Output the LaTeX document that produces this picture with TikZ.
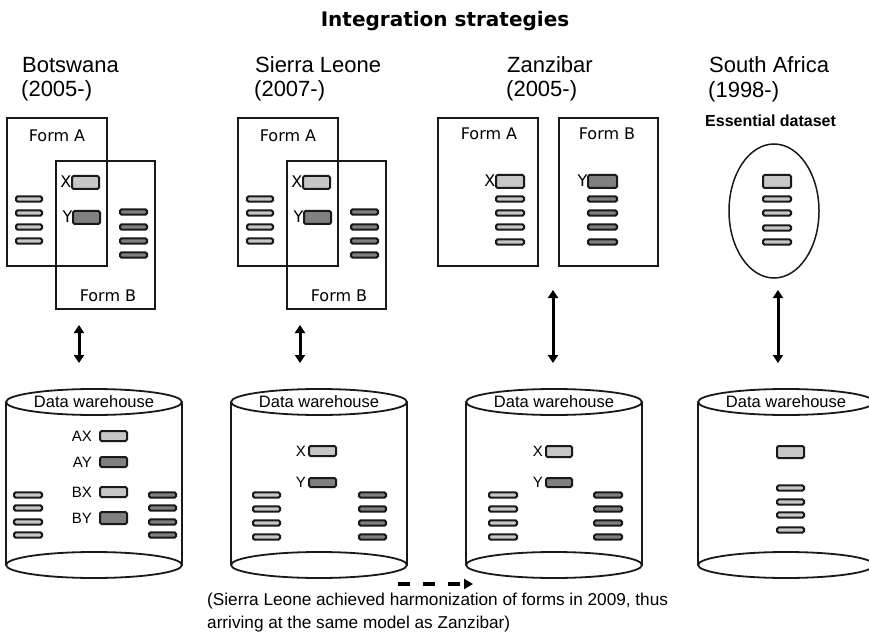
\documentclass[tikz,border=0pt]{standalone}
\usepackage{fontspec}
\setmainfont{Liberation Sans}
\newfontfamily\dejavu{DejaVu Sans}
\usetikzlibrary{arrows.meta}

\colorlet{fieldlight}{black!22}
\colorlet{fielddark}{black!50}
\tikzset{
  formbox/.style={draw=black!90, line width=2pt},
  lightfield/.style={draw=black!90, line width=2pt, fill=fieldlight, rounded corners=1.5pt},
  darkfield/.style={lightfield, fill=fielddark},
  can/.style={draw=black!90, line width=1.8pt},
  colname/.style={font=\fontsize{22}{26}\selectfont, anchor=base west, inner sep=0pt},
  formlabel/.style={font=\dejavu\fontsize{16}{18}\selectfont, inner sep=0pt},
  fieldlabel/.style={font=\dejavu\fontsize{16}{18}\selectfont, anchor=east, inner sep=0.5pt},
  dwfield/.style={font=\fontsize{15}{16}\selectfont, anchor=east, inner sep=1pt},
  dwlabel/.style={font=\fontsize{16.5}{18}\selectfont, inner sep=0pt},
  linkarrow/.style={line width=3pt, {Triangle[width=10pt,length=8pt]}-{Triangle[width=10pt,length=8pt]}},
  footnote/.style={font=\fontsize{17.2}{20}\selectfont, anchor=base west, inner sep=0pt}
}

% a stack of small field bars: style, left x, right x, list of y
\newcommand{\fieldbars}[4]{%
  \foreach \yy in {#4} \draw[#1] (#2,{\yy-2.6}) rectangle (#3,{\yy+2.6});}
% data warehouse cylinder: name, centre x
\newcommand{\warehouse}[2]{%
  \draw[can] ({#2-88},402) -- ({#2-88},565) ({#2+88},402) -- ({#2+88},565);
  \draw[can] (#2,402) ellipse [x radius=88, y radius=13];
  \draw[can] (#2,565) ellipse [x radius=88, y radius=13];
  \node[dwlabel] (#1) at (#2,402) {Data warehouse};}

\begin{document}
\begin{tikzpicture}[x=1pt,y=-1pt]
  \clip (0,0) rectangle (869,636);
  \node[font=\dejavu\bfseries\fontsize{20}{24}\selectfont, anchor=base, inner sep=0pt] (title) at (445,27) {Integration strategies};

  % headings
  \node[colname] (bw-name) at (22,73) {Botswana};
  \node[colname] (bw-year) at (21,97) {(2005-)};
  \node[colname] (sl-name) at (255,73) {Sierra Leone};
  \node[colname] (sl-year) at (254,97) {(2007-)};
  \node[colname] (zz-name) at (507,73) {Zanzibar};
  \node[colname] (zz-year) at (506,97) {(2005-)};
  \node[colname] (sa-name) at (709,73) {South Africa};
  \node[colname] (sa-year) at (708,98) {(1998-)};
  \node[font=\bfseries\fontsize{16}{18}\selectfont, anchor=base west, inner sep=0pt] (sa-ess) at (705,127) {Essential dataset};

  % overlapping forms
  \foreach \ox/\nm in {0/bw,231/sl}{
    \begin{scope}[xshift=\ox]
      \draw[formbox] (7,118) rectangle (107,266);
      \draw[formbox] (56,161) rectangle (155,309);
      \node[formlabel] (\nm-a) at (57,136) {Form A};
      \node[formlabel] (\nm-b) at (108,296) {Form B};
      \draw[lightfield] (72,176) rectangle (99,189);
      \draw[darkfield] (73,211) rectangle (100,224);
      \node[fieldlabel] (\nm-x) at (72,182) {X};
      \node[fieldlabel] (\nm-y) at (73,217) {Y};
      \fieldbars{lightfield}{16}{42}{199,213,227,241}
      \fieldbars{darkfield}{120}{147}{212,227,241,255}
    \end{scope}
  }

  % separate forms
  \draw[formbox] (438,118) rectangle (538,266);
  \draw[formbox] (559,118) rectangle (658,266);
  \node[formlabel] (zz-a) at (489,134) {Form A};
  \node[formlabel] (zz-b) at (607,134) {Form B};
  \draw[lightfield] (496,175) rectangle (524,188);
  \node[fieldlabel] (zz-x) at (496,181) {X};
  \fieldbars{lightfield}{496}{524}{199,213,227,242}
  \draw[darkfield] (588,175) rectangle (617,188);
  \node[fieldlabel] (zz-y) at (588,181) {Y};
  \fieldbars{darkfield}{588}{617}{199,213,227,242}

  % essential dataset
  \draw[can, line width=1.5pt] (774,211) ellipse [x radius=45, y radius=67];
  \draw[lightfield] (763,175) rectangle (791,188);
  \fieldbars{lightfield}{763}{791}{199,213,228,242}

  % links
  \foreach \nm/\xx/\yy in {bw/79/325, sl/300/325, zz/553/290, sa/778/290}{
    \coordinate (\nm-up) at (\xx,\yy);
    \coordinate (\nm-dn) at (\xx,363);
    \draw[linkarrow] (\nm-up) -- (\nm-dn);
  }

  % warehouses
  \warehouse{bw-dw}{94}
  \warehouse{sl-dw}{319}
  \warehouse{zz-dw}{554}
  \warehouse{sa-dw}{786}

  \foreach \lbl/\yy/\st in {AX/436/lightfield, AY/462/darkfield, BX/492/lightfield}{
    \draw[\st] (100,{\yy-5}) rectangle (127,{\yy+5});
    \node[dwfield] (bw-\lbl) at (93,\yy) {\lbl};
  }
  \draw[darkfield] (100,512) rectangle (127,524);
  \node[dwfield] (bw-BY) at (93,518) {BY};
  \fieldbars{lightfield}{14}{42}{495,508,522,535}
  \fieldbars{darkfield}{149}{176}{495,508,522,535}

  \draw[lightfield] (309,446) rectangle (336,456);
  \node[dwfield] (sl-dx) at (307,451) {X};
  \draw[darkfield] (309,478) rectangle (336,487);
  \node[dwfield] (sl-dy) at (307,482) {Y};
  \fieldbars{lightfield}{253}{280}{495,509,523,537}
  \fieldbars{darkfield}{359}{386}{495,509,523,537}

  \draw[lightfield] (546,446) rectangle (572,457);
  \node[dwfield] (zz-dx) at (544,451) {X};
  \draw[darkfield] (546,478) rectangle (572,487);
  \node[dwfield] (zz-dy) at (544,482) {Y};
  \fieldbars{lightfield}{489}{517}{495,509,523,537}
  \fieldbars{darkfield}{594}{622}{495,509,523,537}

  \draw[lightfield] (777,446) rectangle (804,458);
  \fieldbars{lightfield}{777}{804}{488,502,515,530}

  % harmonization note
  \coordinate (sync-from) at (398,584);
  \coordinate (sync-to) at (473,584);
  \draw[line width=3.5pt, dash pattern=on 12pt off 13pt, -{Triangle[width=10pt,length=9pt]}] (sync-from) -- (sync-to);
  \node[footnote] (note-1) at (207,605) {(Sierra Leone achieved harmonization of forms in 2009, thus};
  \node[footnote] (note-2) at (207,628) {arriving at the same model as Zanzibar)};
\end{tikzpicture}
\end{document}
